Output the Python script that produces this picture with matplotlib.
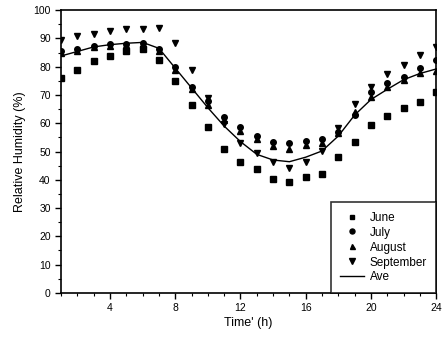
import numpy as np
import matplotlib
matplotlib.use('Agg')
import matplotlib.pyplot as plt
from matplotlib.ticker import MultipleLocator

plt.rcParams.update({'font.family': ['Liberation Sans', 'DejaVu Sans'], 'font.size': 8})

hours = list(range(1, 25))
june = [76.0, 79.0, 82.0, 83.7, 85.4, 86.1, 82.2, 74.8, 66.5, 58.6, 50.8, 46.4,
        43.8, 40.2, 39.1, 40.9, 41.9, 48.1, 53.5, 59.4, 62.5, 65.5, 67.5, 71.1]
july = [85.5, 86.1, 87.4, 87.9, 88.2, 88.4, 86.2, 80.0, 72.8, 67.7, 62.1, 58.8,
        55.5, 53.2, 52.9, 53.8, 54.3, 57.0, 62.9, 71.1, 74.3, 76.4, 79.4, 82.3]
august = [85.0, 85.6, 86.9, 87.4, 87.8, 88.0, 85.5, 79.0, 72.0, 66.5, 61.0, 57.4,
          54.3, 52.1, 50.9, 52.3, 53.1, 56.5, 64.0, 69.4, 72.7, 75.3, 77.9, 78.5]
september = [89.4, 90.8, 91.7, 92.6, 93.2, 93.4, 93.7, 88.4, 78.8, 69.0, 59.8, 53.1,
             49.6, 46.4, 44.1, 46.4, 50.3, 58.2, 66.7, 72.7, 77.4, 80.6, 84.1, 87.0]
ave = [83.8, 85.4, 87.0, 87.8, 88.3, 88.6, 86.5, 79.5, 72.5, 65.5, 59.0, 53.5,
       49.0, 47.0, 46.4, 48.0, 50.2, 55.5, 62.9, 68.4, 72.0, 75.4, 77.6, 79.2]

fig = plt.figure(figsize=(4.46, 3.39), dpi=100)
ax = fig.add_axes([0.137, 0.136, 0.841, 0.834])

ax.plot(hours, june, 's', color='black', markersize=3.8, label='June')
ax.plot(hours, july, 'o', color='black', markersize=4, label='July')
ax.plot(hours, august, '^', color='black', markersize=4, label='August')
ax.plot(hours, september, 'v', color='black', markersize=5, label='September')
ax.plot(hours, ave, '-', color='black', linewidth=1.0, label='Ave')

ax.set_xlim(1, 24)
ax.set_ylim(0, 100)
ax.set_xticks([4, 8, 12, 16, 20, 24])
ax.xaxis.set_minor_locator(MultipleLocator(1))
ax.set_yticks(range(0, 101, 10))
ax.yaxis.set_minor_locator(MultipleLocator(5))
ax.tick_params(which='major', direction='out', length=4, width=1, labelsize=7.5)
ax.tick_params(which='minor', direction='out', length=2, width=0.8)
ax.tick_params(axis='x', which='both', top=False)
ax.tick_params(axis='y', which='both', right=False)
for s in ax.spines.values():
    s.set_linewidth(1.2)

ax.set_xlabel("Time' (h)", fontsize=9, labelpad=3)
ax.set_ylabel('Relative Humidity (%)', fontsize=9, labelpad=5)

leg = ax.legend(loc='lower right', borderaxespad=0, fancybox=False, frameon=True,
                edgecolor='black', fontsize=8.5, handlelength=2.0, handletextpad=0.5,
                labelspacing=0.25, borderpad=0.8, markerscale=0.9)
leg.get_frame().set_linewidth(1.2)

fig.savefig('out.png', dpi=100)
